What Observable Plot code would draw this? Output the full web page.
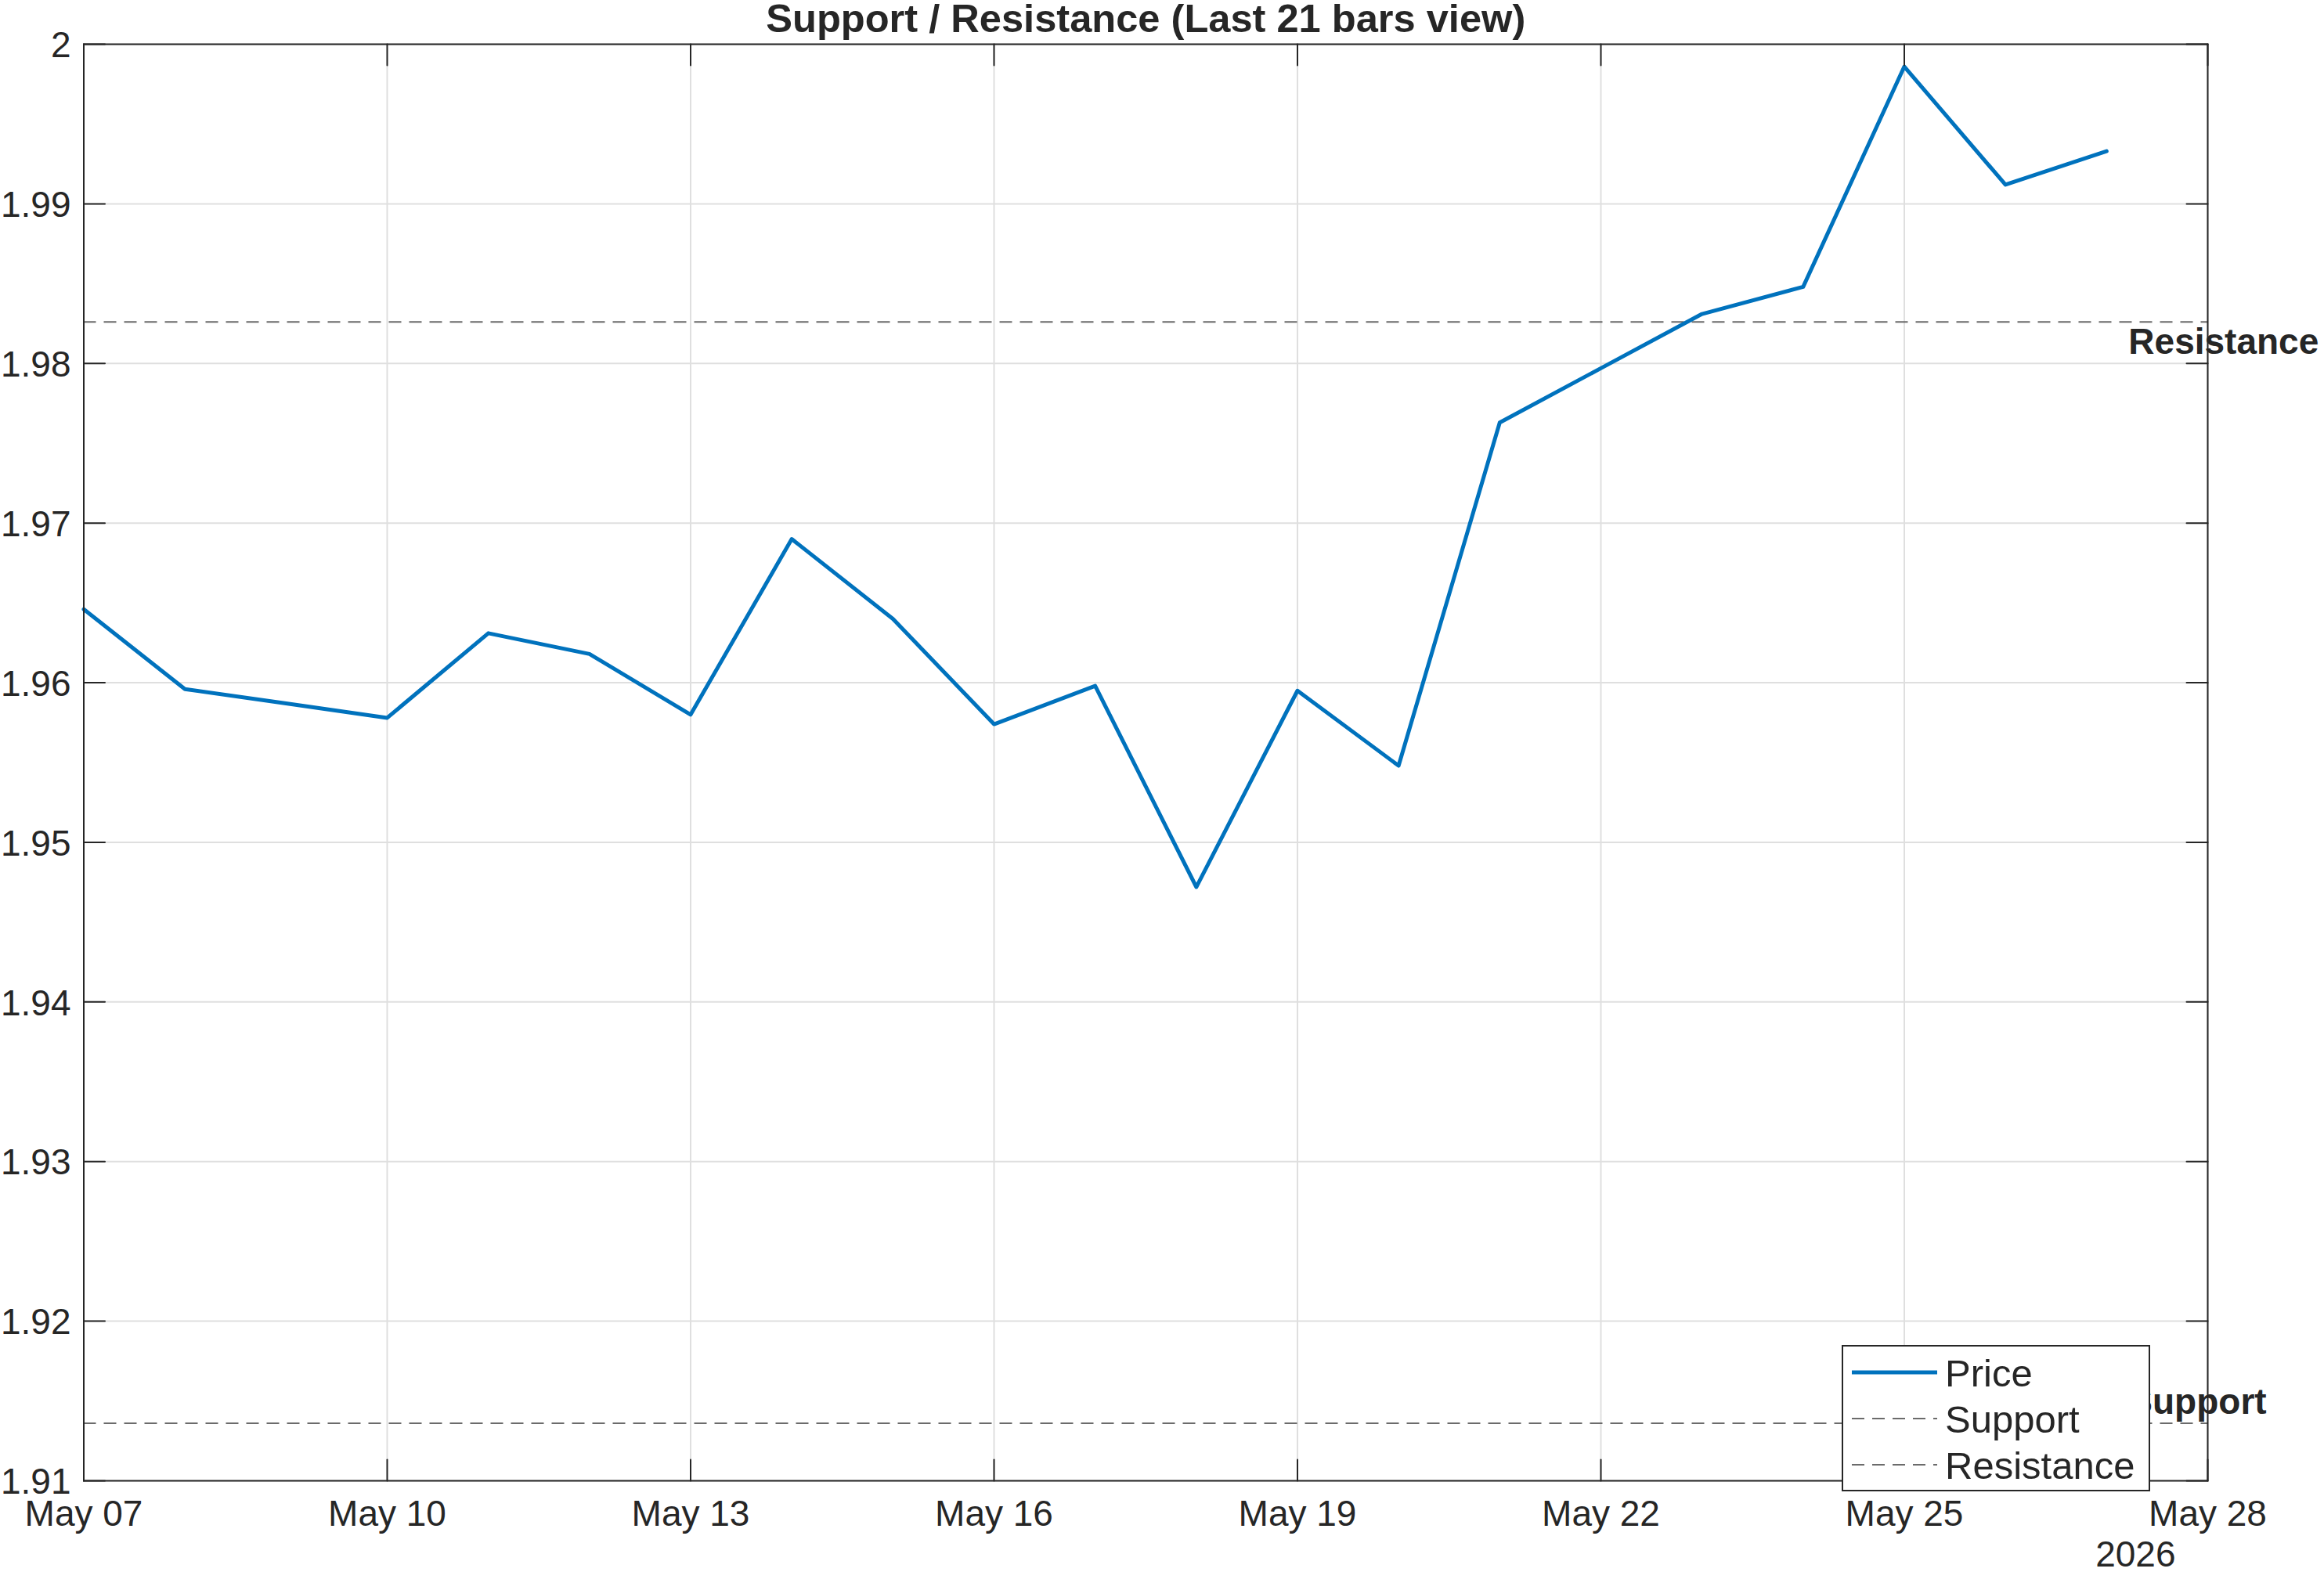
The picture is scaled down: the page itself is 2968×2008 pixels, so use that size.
<!DOCTYPE html>
<html>
<head>
<meta charset="utf-8">
<script src="https://cdn.jsdelivr.net/npm/d3@7"></script>
<script src="https://cdn.jsdelivr.net/npm/@observablehq/plot@0.6"></script>
<style>
  html, body { margin: 0; padding: 0; background: #fff; overflow: hidden; }
  #chart { width: 2968px; height: 2008px; }
</style>
</head>
<body>
<div id="chart"></div>
<script>
// ---- data ----
const dates = [
  "2026-05-07","2026-05-08","2026-05-09","2026-05-10","2026-05-11","2026-05-12","2026-05-13",
  "2026-05-14","2026-05-15","2026-05-16","2026-05-17","2026-05-18","2026-05-19","2026-05-20",
  "2026-05-21","2026-05-22","2026-05-23","2026-05-24","2026-05-25","2026-05-26","2026-05-27"
];
const price = [
  1.9646, 1.9596, 1.9587, 1.9578, 1.9631, 1.9618, 1.9580,
  1.9690, 1.9640, 1.9574, 1.9598, 1.9472, 1.9595, 1.9548,
  1.9763, 1.9797, 1.9831, 1.9848, 1.9986, 1.9912, 1.9933
];
const supportLevel = 1.9136;
const resistanceLevel = 1.9826;
const xDomain = ["2026-05-07", "2026-05-28"];
const xTickDates = ["2026-05-07","2026-05-10","2026-05-13","2026-05-16","2026-05-19","2026-05-22","2026-05-25","2026-05-28"];
const yDomain = [1.91, 2.00];
const yTicks = [1.91, 1.92, 1.93, 1.94, 1.95, 1.96, 1.97, 1.98, 1.99, 2.00];
const titleText = "Support / Resistance (Last 21 bars view)";
const yearLabel = "2026";
const levelLabels = ["Support", "Resistance"];
const legendLabels = ["Price", "Support", "Resistance"];

// ---- build ----
const parse = d3.utcParse("%Y-%m-%d");
const series = dates.map((d, i) => ({date: parse(d), price: price[i]}));
const xT = xTickDates.map(parse);
const lastDate = parse(dates[dates.length - 1]);
const endDate = parse(xDomain[1]);

const W = 2968, H = 2008;
const font = "'Liberation Sans', Arial, Helvetica, sans-serif";
const ink = "#262626";
const gridColor = "#dfdfdf";
const dashColor = "#6b6b6b";
const dash = "16,10";
const blue = "#0072BD";
const tickLen = 27;
const fs = 46;

const inward = {draw(ctx, l) { ctx.moveTo(0, 0); ctx.lineTo(0, -l); }};

const plot = Plot.plot({
  width: W,
  height: H,
  marginLeft: 106.5,
  marginRight: 149,
  marginTop: 56,
  marginBottom: 117,
  style: {fontFamily: font, fontSize: fs + "px", color: ink, background: "#fff", overflow: "visible"},
  x: {type: "utc", domain: xDomain.map(parse), label: null},
  y: {domain: yDomain, label: null},
  marks: [
    Plot.ruleX(xT, {x: d => d, stroke: gridColor, strokeWidth: 2}),
    Plot.ruleY(yTicks, {y: d => d, stroke: gridColor, strokeWidth: 2}),
    Plot.ruleY([supportLevel], {y: d => d, stroke: dashColor, strokeWidth: 2, strokeDasharray: dash}),
    Plot.ruleY([resistanceLevel], {y: d => d, stroke: dashColor, strokeWidth: 2, strokeDasharray: dash}),
    Plot.line(series, {x: "date", y: "price", stroke: blue, strokeWidth: 5, strokeLinejoin: "round"}),
    Plot.frame({stroke: ink, strokeWidth: 2}),
    // inward tick marks
    Plot.vector(yTicks, {x: () => parse(xDomain[0]), y: d => d, length: tickLen, rotate: 90, anchor: "start", shape: inward, stroke: ink, strokeWidth: 2}),
    Plot.vector(yTicks, {x: () => endDate, y: d => d, length: tickLen, rotate: -90, anchor: "start", shape: inward, stroke: ink, strokeWidth: 2}),
    Plot.vector(xT, {x: d => d, y: () => yDomain[0], length: tickLen, rotate: 0, anchor: "start", shape: inward, stroke: ink, strokeWidth: 2}),
    Plot.vector(xT, {x: d => d, y: () => yDomain[1], length: tickLen, rotate: 180, anchor: "start", shape: inward, stroke: ink, strokeWidth: 2}),
    // axes labels
    Plot.axisX({ticks: xT, tickFormat: d3.utcFormat("%b %d"), tickSize: 0, tickPadding: 25, fontSize: fs, fill: ink, label: null}),
    Plot.axisY({ticks: yTicks, tickFormat: d => String(+d.toFixed(2)), tickSize: 0, tickPadding: 16.5, dy: 2, fontSize: fs, fill: ink, label: null}),
    // title
    Plot.text([titleText], {frameAnchor: "top", lineAnchor: "middle", dy: -32, fontSize: 50.6, fontWeight: "bold", fill: ink}),
    // year label
    Plot.text([yearLabel], {x: () => endDate, frameAnchor: "bottom", textAnchor: "end", lineAnchor: "middle", dx: -41, dy: 95, fontSize: fs, fill: ink}),
    // level labels
    Plot.text([levelLabels[1]], {x: () => lastDate, y: () => resistanceLevel, textAnchor: "start", lineAnchor: "middle", dx: 28, dy: 26.3, fontSize: fs, fontWeight: "bold", fill: ink}),
    Plot.text([levelLabels[0]], {x: () => lastDate, y: () => supportLevel, textAnchor: "start", lineAnchor: "middle", dx: 28, dy: -26.7, fontSize: fs, fontWeight: "bold", fill: ink})
  ]
});

// ---- legend (drawn over the plot, lower right) ----
const svg = d3.select(plot);
const lg = svg.append("g")
  .style("font-family", font).style("font-size", "49px")
  .attr("text-anchor", "start").style("text-anchor", "start");
const bx = 2353, by = 1719, bw = 392, bh = 185;
lg.append("rect").attr("x", bx).attr("y", by).attr("width", bw).attr("height", bh)
  .attr("fill", "#fff").attr("stroke", ink).attr("stroke-width", 2);
const rowsY = [1753, 1812, 1871];
const styles = [
  {stroke: blue, width: 5, dash: null},
  {stroke: dashColor, width: 2, dash: dash},
  {stroke: dashColor, width: 2, dash: dash}
];
legendLabels.forEach((lab, i) => {
  const s = styles[i];
  const l = lg.append("line").attr("x1", 2365).attr("x2", 2474).attr("y1", rowsY[i]).attr("y2", rowsY[i])
    .attr("stroke", s.stroke).attr("stroke-width", s.width);
  if (s.dash) l.attr("stroke-dasharray", s.dash);
  lg.append("text").attr("x", 2484).attr("y", rowsY[i] + 17.5)
    .style("text-anchor", "start").attr("fill", ink).text(lab);
});

document.getElementById("chart").appendChild(plot);
</script>
</body>
</html>
